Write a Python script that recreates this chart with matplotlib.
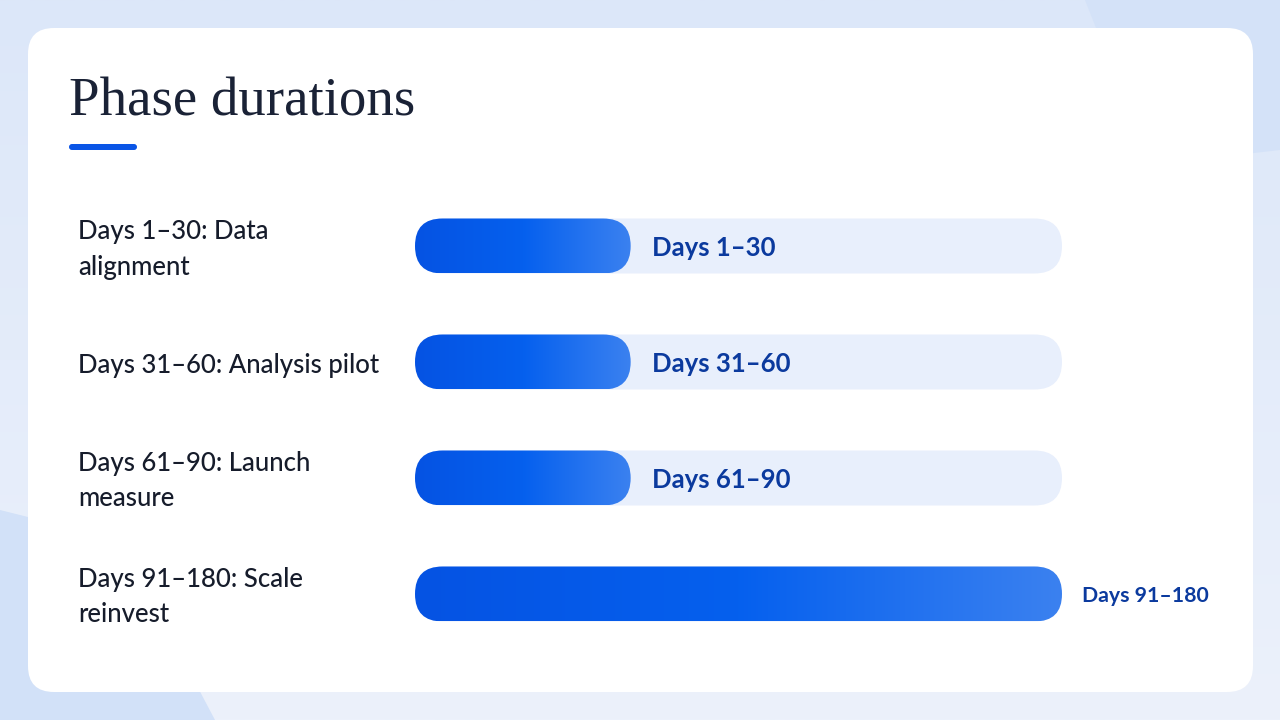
import numpy as np
import matplotlib.pyplot as plt
from matplotlib.patches import FancyBboxPatch, Polygon
from matplotlib.colors import LinearSegmentedColormap

# chart data
phases = ["Days 1\u201330: Data\nalignment",
          "Days 31\u201360: Analysis pilot",
          "Days 61\u201390: Launch\nmeasure",
          "Days 91\u2013180: Scale\nreinvest"]
durations = [30, 30, 30, 90]
value_labels = ["Days 1\u201330", "Days 31\u201360", "Days 61\u201390", "Days 91\u2013180"]
title = "Phase durations"

W, H = 1280, 720
fig = plt.figure(figsize=(W / 100, H / 100), dpi=100)

# background + card in pixel coords
bg = fig.add_axes([0, 0, 1, 1])
bg.set_xlim(0, W)
bg.set_ylim(H, 0)
bg.axis("off")
grad = np.linspace(0, 1, 256).reshape(-1, 1)
bg_cmap = LinearSegmentedColormap.from_list("bg", ["#dce7f9", "#ecf1fb"])
bg.imshow(grad, cmap=bg_cmap, extent=[0, W, H, 0], aspect="auto", zorder=0)
bg.add_patch(Polygon([(1085, 0), (W, 0), (W, 150), (1150, 165)], closed=True,
                     facecolor="#d4e2f8", edgecolor="none", zorder=1))
bg.add_patch(Polygon([(0, 510), (120, 540), (215, H), (0, H)], closed=True,
                     facecolor="#d2e1f8", edgecolor="none", zorder=1))
bg.add_patch(FancyBboxPatch((28, 28), 1225, 664, boxstyle="round,pad=0,rounding_size=26",
                            facecolor="white", edgecolor="none", zorder=2))
bg.text(69, 115, title, fontsize=39.5, family="Liberation Serif", color="#1a2236",
        va="baseline", ha="left", zorder=3)
bg.add_patch(FancyBboxPatch((69, 144), 68, 6, boxstyle="round,pad=0,rounding_size=3",
                            facecolor="#0a55e6", edgecolor="none", zorder=3))

# bar axes: x in days, y in row index
x0, x1 = 415, 1062
row_top, row_h = 188, 116
n = len(phases)
ax = fig.add_axes([x0 / W, 1 - (row_top + n * row_h) / H, (x1 - x0) / W, n * row_h / H])
ax.set_xlim(0, max(durations))
ax.set_ylim(n - 0.5, -0.5)
ax.axis("off")
ax.patch.set_alpha(0)

bar_h = 55 / row_h
px_x = (x1 - x0) / max(durations)       # pixels per day
aspect = (1 / row_h) / (1 / px_x)       # y-units per x-unit at equal pixels
rad = 27.5 / px_x
bar_cmap = LinearSegmentedColormap.from_list("bar", ["#0653e3", "#0560ee", "#3b81f0"])
lab_font = ["Lato", "DejaVu Sans"]

for i, (name, d, vl) in enumerate(zip(phases, durations, value_labels)):
    y = i - bar_h / 2
    track = FancyBboxPatch((0, y), max(durations), bar_h,
                           boxstyle=f"round,pad=0,rounding_size={rad}",
                           mutation_aspect=aspect, facecolor="#e8effc",
                           edgecolor="none", zorder=1)
    ax.add_patch(track)
    bar = FancyBboxPatch((0, y), d, bar_h,
                         boxstyle=f"round,pad=0,rounding_size={rad}",
                         mutation_aspect=aspect, facecolor="none",
                         edgecolor="none", zorder=2)
    ax.add_patch(bar)
    im = ax.imshow(np.linspace(0, 1, 256).reshape(1, -1), cmap=bar_cmap,
                   extent=[0, d, y + bar_h, y], aspect="auto", zorder=2)
    im.set_clip_path(bar)
    ty = i + 2 / row_h
    if d < max(durations):
        ax.text(d + 21 / px_x, ty, vl, fontsize=18.5, fontweight="bold", family=lab_font,
                color="#0b3a9e", va="center", ha="left", zorder=3)
    else:
        ax.text(d + 20 / px_x, ty, vl, fontsize=15.3, fontweight="bold", family=lab_font,
                color="#0b3a9e", va="center", ha="left", zorder=3, clip_on=False)
    bg.text(78, row_top + (i + 0.5) * row_h + 3, name, fontsize=18.5, family=lab_font,
            fontweight="medium", color="#161c2b", va="center", ha="left",
            linespacing=1.55, zorder=3)

fig.savefig("out.png", dpi=100)
